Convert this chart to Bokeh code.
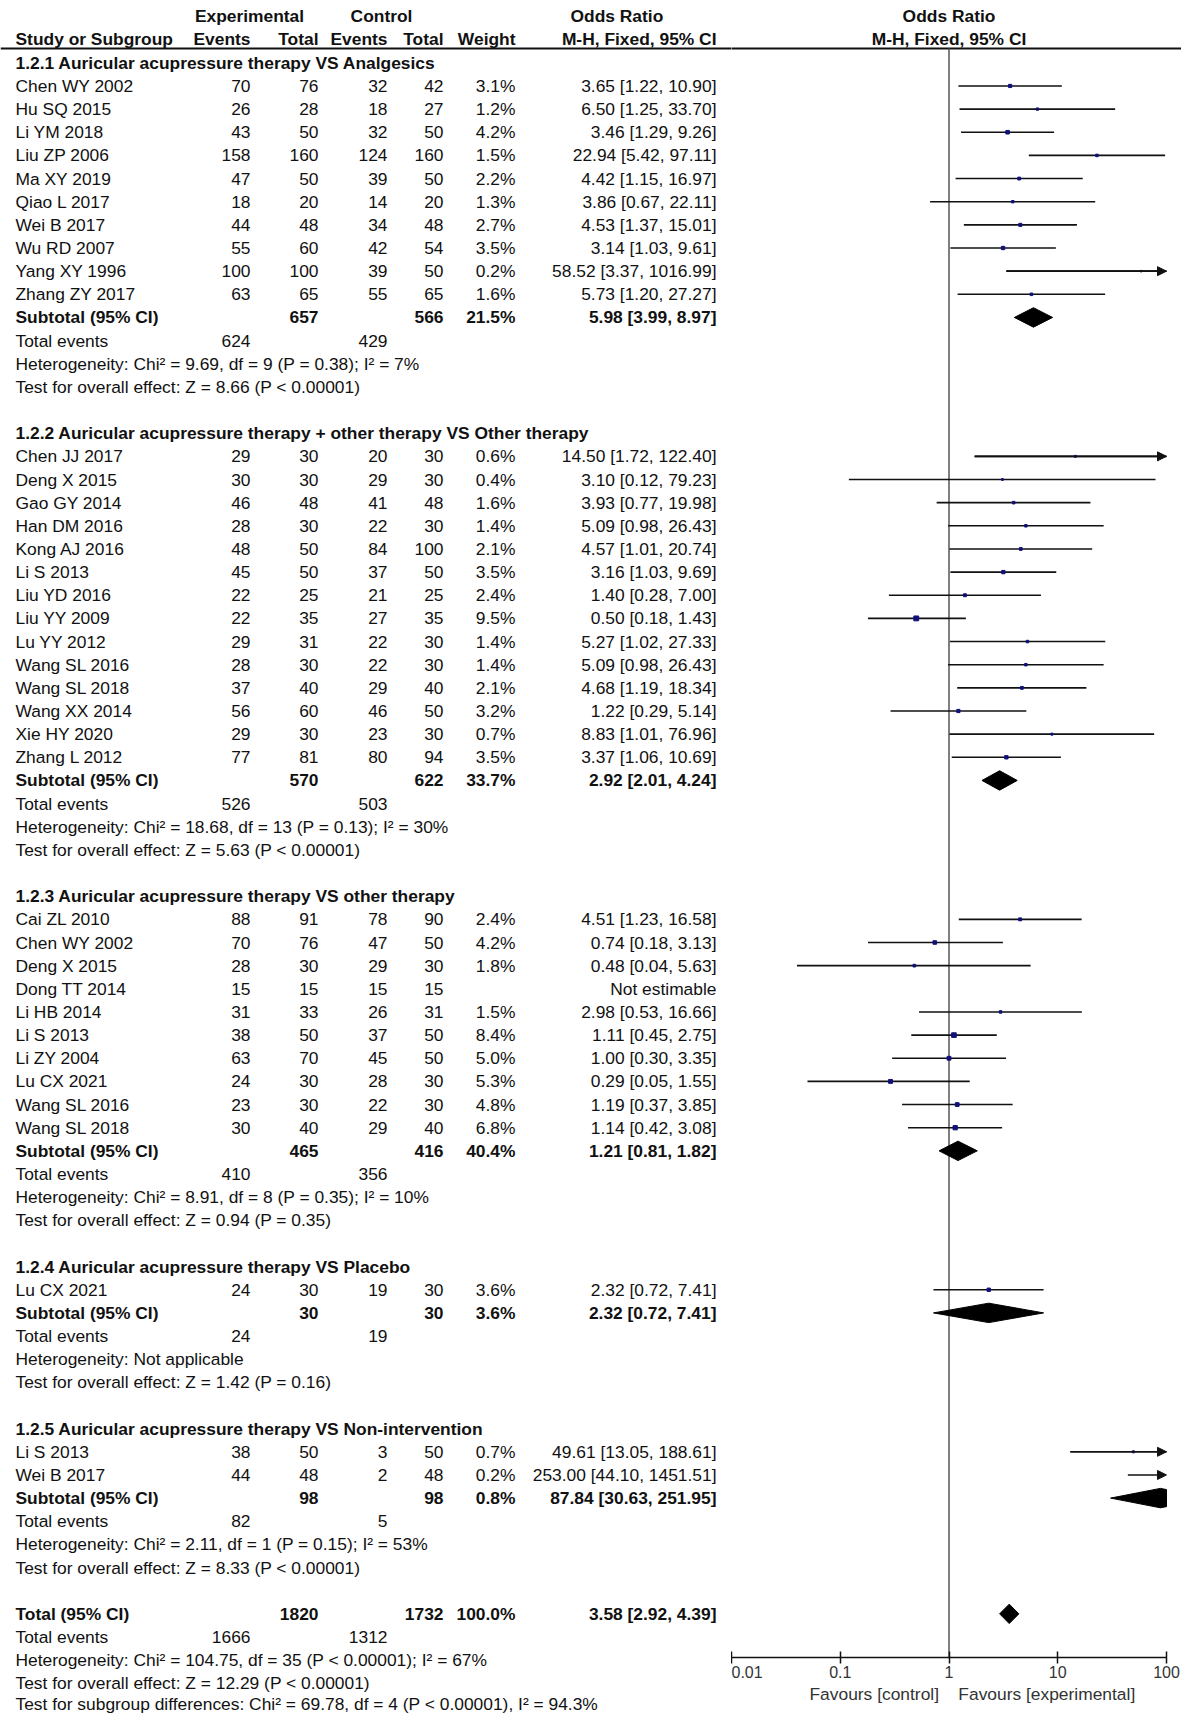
import math
from bokeh.plotting import figure
from bokeh.models import (Range1d, ColumnDataSource, FixedTicker, CustomJSTickFormatter,
                          Title, Arrow, NormalHead)
from bokeh.embed import file_html
from bokeh.resources import INLINE
from bokeh.core.properties import value

# ---------------- data ----------------
sub_titles = [
    "1.2.1 Auricular acupressure therapy VS Analgesics",
    "1.2.2 Auricular acupressure therapy + other therapy VS Other therapy",
    "1.2.3 Auricular acupressure therapy VS other therapy",
    "1.2.4 Auricular acupressure therapy VS Placebo",
    "1.2.5 Auricular acupressure therapy VS Non-intervention",
]

study_names = [
    "Chen WY 2002", "Hu SQ 2015", "Li YM 2018", "Liu ZP 2006", "Ma XY 2019", "Qiao L 2017",
    "Wei B 2017", "Wu RD 2007", "Yang XY 1996", "Zhang ZY 2017",
    "Chen JJ 2017", "Deng X 2015", "Gao GY 2014", "Han DM 2016", "Kong AJ 2016", "Li S 2013",
    "Liu YD 2016", "Liu YY 2009", "Lu YY 2012", "Wang SL 2016", "Wang SL 2018", "Wang XX 2014",
    "Xie HY 2020", "Zhang L 2012",
    "Cai ZL 2010", "Chen WY 2002", "Deng X 2015", "Dong TT 2014", "Li HB 2014", "Li S 2013",
    "Li ZY 2004", "Lu CX 2021", "Wang SL 2016", "Wang SL 2018",
    "Lu CX 2021",
    "Li S 2013", "Wei B 2017",
]
study_group = [0] * 10 + [1] * 14 + [2] * 10 + [3] + [4] * 2
exp_events = [70, 26, 43, 158, 47, 18, 44, 55, 100, 63,
              29, 30, 46, 28, 48, 45, 22, 22, 29, 28, 37, 56, 29, 77,
              88, 70, 28, 15, 31, 38, 63, 24, 23, 30,
              24,
              38, 44]
exp_total = [76, 28, 50, 160, 50, 20, 48, 60, 100, 65,
             30, 30, 48, 30, 50, 50, 25, 35, 31, 30, 40, 60, 30, 81,
             91, 76, 30, 15, 33, 50, 70, 30, 30, 40,
             30,
             50, 48]
ctrl_events = [32, 18, 32, 124, 39, 14, 34, 42, 39, 55,
               20, 29, 41, 22, 84, 37, 21, 27, 22, 22, 29, 46, 23, 80,
               78, 47, 29, 15, 26, 37, 45, 28, 22, 29,
               19,
               3, 2]
ctrl_total = [42, 27, 50, 160, 50, 20, 48, 54, 50, 65,
              30, 30, 48, 30, 100, 50, 25, 35, 30, 30, 40, 50, 30, 94,
              90, 50, 30, 15, 31, 50, 50, 30, 30, 40,
              30,
              50, 48]
study_weight = [3.1, 1.2, 4.2, 1.5, 2.2, 1.3, 2.7, 3.5, 0.2, 1.6,
                0.6, 0.4, 1.6, 1.4, 2.1, 3.5, 2.4, 9.5, 1.4, 1.4, 2.1, 3.2, 0.7, 3.5,
                2.4, 4.2, 1.8, None, 1.5, 8.4, 5.0, 5.3, 4.8, 6.8,
                3.6,
                0.7, 0.2]
or_est = [3.65, 6.50, 3.46, 22.94, 4.42, 3.86, 4.53, 3.14, 58.52, 5.73,
          14.50, 3.10, 3.93, 5.09, 4.57, 3.16, 1.40, 0.50, 5.27, 5.09, 4.68, 1.22, 8.83, 3.37,
          4.51, 0.74, 0.48, None, 2.98, 1.11, 1.00, 0.29, 1.19, 1.14,
          2.32,
          49.61, 253.00]
or_lo = [1.22, 1.25, 1.29, 5.42, 1.15, 0.67, 1.37, 1.03, 3.37, 1.20,
         1.72, 0.12, 0.77, 0.98, 1.01, 1.03, 0.28, 0.18, 1.02, 0.98, 1.19, 0.29, 1.01, 1.06,
         1.23, 0.18, 0.04, None, 0.53, 0.45, 0.30, 0.05, 0.37, 0.42,
         0.72,
         13.05, 44.10]
or_hi = [10.90, 33.70, 9.26, 97.11, 16.97, 22.11, 15.01, 9.61, 1016.99, 27.27,
         122.40, 79.23, 19.98, 26.43, 20.74, 9.69, 7.00, 1.43, 27.33, 26.43, 18.34, 5.14, 76.96, 10.69,
         16.58, 3.13, 5.63, None, 16.66, 2.75, 3.35, 1.55, 3.85, 3.08,
         7.41,
         188.61, 1451.51]

sub_exp_total = [657, 570, 465, 30, 98]
sub_ctrl_total = [566, 622, 416, 30, 98]
sub_exp_events = [624, 526, 410, 24, 82]
sub_ctrl_events = [429, 503, 356, 19, 5]
sub_weight = [21.5, 33.7, 40.4, 3.6, 0.8]
sub_or = [5.98, 2.92, 1.21, 2.32, 87.84]
sub_lo = [3.99, 2.01, 0.81, 0.72, 30.63]
sub_hi = [8.97, 4.24, 1.82, 7.41, 251.95]
sub_het = [
    "Heterogeneity: Chi\u00b2 = 9.69, df = 9 (P = 0.38); I\u00b2 = 7%",
    "Heterogeneity: Chi\u00b2 = 18.68, df = 13 (P = 0.13); I\u00b2 = 30%",
    "Heterogeneity: Chi\u00b2 = 8.91, df = 8 (P = 0.35); I\u00b2 = 10%",
    "Heterogeneity: Not applicable",
    "Heterogeneity: Chi\u00b2 = 2.11, df = 1 (P = 0.15); I\u00b2 = 53%",
]
sub_test = [
    "Test for overall effect: Z = 8.66 (P < 0.00001)",
    "Test for overall effect: Z = 5.63 (P < 0.00001)",
    "Test for overall effect: Z = 0.94 (P = 0.35)",
    "Test for overall effect: Z = 1.42 (P = 0.16)",
    "Test for overall effect: Z = 8.33 (P < 0.00001)",
]

total_exp_total, total_ctrl_total = 1820, 1732
total_exp_events, total_ctrl_events = 1666, 1312
total_weight = 100.0
total_or, total_lo, total_hi = 3.58, 2.92, 4.39
total_notes = [
    "Heterogeneity: Chi\u00b2 = 104.75, df = 35 (P < 0.00001); I\u00b2 = 67%",
    "Test for overall effect: Z = 12.29 (P < 0.00001)",
    "Test for subgroup differences: Chi\u00b2 = 69.78, df = 4 (P < 0.00001), I\u00b2 = 94.3%",
]
axis_ticks = [0.01, 0.1, 1, 10, 100]
favours_left = "Favours [control]"
favours_right = "Favours [experimental]"

# ---------------- layout constants ----------------
FONT = "Liberation Sans"
FS = "17.4px"
TXT = "#111111"
ROW0, ROWH = 62.3, 23.15          # page y of row 0 and row pitch
PAGE_W, PAGE_H = 1181, 1714
SPLIT = 731                        # page x where the forest frame starts (OR = 0.01)
DECADE = 108.75                    # px per decade on the forest axis
AXIS_PAGE_Y = 1657
X_NAME, X_EEV, X_ETOT, X_CEV, X_CTOT, X_W, X_OR = 15, 250, 318, 387, 443, 515, 716
X_ORHEAD = 570


def row_of(py):
    return (py - ROW0) / ROWH


HEAD1, HEAD2, RULE = row_of(15), row_of(38), row_of(48)
XMIN, XMAX = axis_ticks[0], axis_ticks[-1]
XEDGE = 10 ** (math.log10(XMAX) + (PAGE_W - SPLIT - 4 * DECADE) / DECADE)

left = figure(width=SPLIT, height=PAGE_H, x_range=Range1d(0, SPLIT),
              y_range=Range1d(row_of(PAGE_H), row_of(0)),
              x_axis_location=None, y_axis_location=None, toolbar_location=None,
              output_backend="svg", min_border=0, outline_line_color=None)
left.xgrid.visible = False
left.ygrid.visible = False

right = figure(width=PAGE_W - SPLIT, height=PAGE_H, x_axis_type="log", x_range=Range1d(XMIN, XEDGE),
               y_range=Range1d(row_of(AXIS_PAGE_Y), row_of(0)),
               y_axis_location=None, toolbar_location=None, output_backend="svg",
               min_border_left=0, min_border_right=0, min_border_top=0,
               min_border_bottom=PAGE_H - AXIS_PAGE_Y, outline_line_color=None)
right.xgrid.visible = False
right.ygrid.visible = False

buckets = {}


def put(fig, key, x, y, t):
    k = (id(fig), key)
    if k not in buckets:
        buckets[k] = [fig, key, [], [], []]
    b = buckets[k]
    b[2].append(x); b[3].append(y); b[4].append(t)


def fmt_or(e, l, h):
    return f"{e:.2f} [{l:.2f}, {h:.2f}]"


# headers
put(left, ("center", "bold"), 249, HEAD1, "Experimental")
put(left, ("center", "bold"), 381, HEAD1, "Control")
put(left, ("left", "bold"), X_NAME, HEAD2, "Study or Subgroup")
for x, t in [(X_EEV, "Events"), (X_ETOT, "Total"), (X_CEV, "Events"), (X_CTOT, "Total"), (X_W, "Weight"),
             (X_OR, "M-H, Fixed, 95% CI")]:
    put(left, ("right", "bold"), x, HEAD2, t)
put(left, ("left", "bold"), X_ORHEAD, HEAD1, "Odds Ratio")
put(right, ("center", "bold"), 1, HEAD1, "Odds Ratio")
put(right, ("center", "bold"), 1, HEAD2, "M-H, Fixed, 95% CI")

st = dict(x=[], y=[], lo=[], hi=[], size=[])
ar = dict(x0=[], x1=[], y=[])
dia_xs, dia_ys = [], []
DH = 0.42


def diamond(e, l, h, r):
    # diamond cut at the right end of the axis, like the reference
    if h > XMAX:
        t = (math.log10(XMAX) - math.log10(e)) / (math.log10(h) - math.log10(e))
        dh = DH * (1 - t)
        dia_xs.append([l, e, XMAX, XMAX, e])
        dia_ys.append([r, r - DH, r - dh, r + dh, r + DH])
    else:
        dia_xs.append([l, e, h, e])
        dia_ys.append([r, r - DH, r, r + DH])


r = 0
for g in range(len(sub_titles)):
    put(left, ("left", "bold"), X_NAME, r, sub_titles[g])
    r += 1
    for i, gg in enumerate(study_group):
        if gg != g:
            continue
        put(left, ("left", "normal"), X_NAME, r, study_names[i])
        put(left, ("right", "normal"), X_EEV, r, str(exp_events[i]))
        put(left, ("right", "normal"), X_ETOT, r, str(exp_total[i]))
        put(left, ("right", "normal"), X_CEV, r, str(ctrl_events[i]))
        put(left, ("right", "normal"), X_CTOT, r, str(ctrl_total[i]))
        if study_weight[i] is not None:
            put(left, ("right", "normal"), X_W, r, f"{study_weight[i]:.1f}%")
        if or_est[i] is None:
            put(left, ("right", "normal"), X_OR, r, "Not estimable")
        else:
            put(left, ("right", "normal"), X_OR, r, fmt_or(or_est[i], or_lo[i], or_hi[i]))
            if or_est[i] <= XMAX:
                st["x"].append(or_est[i]); st["y"].append(r)
                st["lo"].append(or_lo[i]); st["hi"].append(min(or_hi[i], XMAX))
                st["size"].append(1.25 * math.sqrt(study_weight[i]) + 1.0)
            if or_hi[i] > XMAX:
                ar["x0"].append(or_lo[i]); ar["x1"].append(XMAX); ar["y"].append(r)
        r += 1
    put(left, ("left", "bold"), X_NAME, r, "Subtotal (95% CI)")
    put(left, ("right", "bold"), X_ETOT, r, str(sub_exp_total[g]))
    put(left, ("right", "bold"), X_CTOT, r, str(sub_ctrl_total[g]))
    put(left, ("right", "bold"), X_W, r, f"{sub_weight[g]:.1f}%")
    put(left, ("right", "bold"), X_OR, r, fmt_or(sub_or[g], sub_lo[g], sub_hi[g]))
    diamond(sub_or[g], sub_lo[g], sub_hi[g], r)
    r += 1
    put(left, ("left", "normal"), X_NAME, r, "Total events")
    put(left, ("right", "normal"), X_EEV, r, str(sub_exp_events[g]))
    put(left, ("right", "normal"), X_CEV, r, str(sub_ctrl_events[g]))
    r += 1
    put(left, ("left", "normal"), X_NAME, r, sub_het[g]); r += 1
    put(left, ("left", "normal"), X_NAME, r, sub_test[g]); r += 1
    r += 1

put(left, ("left", "bold"), X_NAME, r, "Total (95% CI)")
put(left, ("right", "bold"), X_ETOT, r, str(total_exp_total))
put(left, ("right", "bold"), X_CTOT, r, str(total_ctrl_total))
put(left, ("right", "bold"), X_W, r, f"{total_weight:.1f}%")
put(left, ("right", "bold"), X_OR, r, fmt_or(total_or, total_lo, total_hi))
diamond(total_or, total_lo, total_hi, r)
r += 1
put(left, ("left", "normal"), X_NAME, r, "Total events")
put(left, ("right", "normal"), X_EEV, r, str(total_exp_events))
put(left, ("right", "normal"), X_CEV, r, str(total_ctrl_events))
r += 1
for j, t in enumerate(total_notes):
    # the last note sits at the very bottom edge; lift it a touch so it is not cut
    lift = 0.12 if j == len(total_notes) - 1 else 0.0
    put(left, ("left", "normal"), X_NAME, r - lift, t)
    r += 1

# rules
left.segment(x0=[0], y0=[RULE], x1=[SPLIT], y1=[RULE], line_color="#111111", line_width=2)
right.segment(x0=[XMIN / 10], y0=[RULE], x1=[XEDGE * 10], y1=[RULE], line_color="#111111", line_width=2)
right.segment(x0=[1], y0=[RULE], x1=[1], y1=[row_of(AXIS_PAGE_Y)], line_color="#555555", line_width=1.5)

# forest marks
ssrc = ColumnDataSource(st)
right.segment(x0="lo", y0="y", x1="hi", y1="y", source=ssrc, line_color="#111111", line_width=1.6)
right.scatter(x="x", y="y", size="size", marker="square", source=ssrc,
              fill_color="#10107a", line_color="#10107a")
asrc = ColumnDataSource(ar)
right.add_layout(Arrow(end=NormalHead(size=9, fill_color="#111111", line_color="#111111", line_width=1),
                       x_start="x0", y_start="y", x_end="x1", y_end="y", source=asrc,
                       line_color="#111111", line_width=1.6))
right.patches(xs=dia_xs, ys=dia_ys, fill_color="#000000", line_color="#000000", line_width=1)

# text rendering
for (fid, key), (fig, k, xs, ys, ts) in buckets.items():
    align, style = k
    src = ColumnDataSource(dict(x=xs, y=ys, text=ts))
    fig.text(x="x", y="y", text="text", source=src, text_align=align, text_baseline="middle",
             text_font=value(FONT), text_font_size=FS, text_font_style=style, text_color=TXT)

# axis
ax = right.xaxis[0]
ax.ticker = FixedTicker(ticks=axis_ticks)
ax.bounds = (XMIN, XMAX)
ax.formatter = CustomJSTickFormatter(code="return tick.toString();")
ax.axis_line_width = 1.5
ax.axis_line_color = "#111111"
ax.major_tick_line_color = "#111111"
ax.major_tick_line_width = 1.5
ax.major_tick_in = 6
ax.major_tick_out = 6
ax.minor_tick_line_color = None
ax.major_label_standoff = 2
ax.major_label_text_font = FONT
ax.major_label_text_font_size = "16px"
ax.major_label_text_color = "#333333"

right.add_layout(Title(text=favours_left + "\u00a0\u00a0\u00a0\u00a0" + favours_right, align="left", offset=78,
                       text_font=FONT, text_font_size=FS, text_font_style="normal",
                       text_color="#333333", standoff=2), "below")

# the two panels sit side by side as separate roots so that their frames are not aligned
TEMPLATE = """
{% block contents %}
{% from macros import embed %}
<div style="display:flex; flex-direction:row; align-items:flex-start;">
{% for doc in docs %}{% for root in doc.roots %}{{ embed(root) }}{% endfor %}{% endfor %}
</div>
{% endblock %}
"""

open("out.html", "w").write(file_html([left, right], INLINE, template=TEMPLATE))
